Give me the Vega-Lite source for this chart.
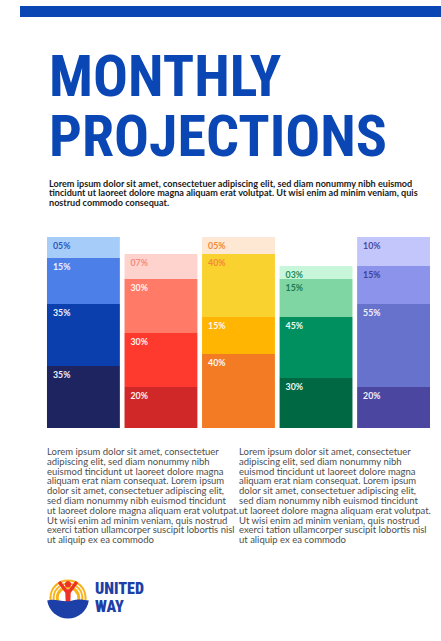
{
  "$schema": "https://vega.github.io/schema/vega-lite/v6.json",
  "background": "#ffffff",
  "padding": {"left": 20, "top": 6, "right": 0, "bottom": 0},
  "spacing": 32,
  "config": {"view": {"stroke": null}},
  "vconcat": [
    {
      "width": 421,
      "height": 11,
      "view": {"fill": "#0a47b5", "stroke": null},
      "data": {"values": [{"band": "top"}]},
      "mark": {"type": "rect", "color": "#0a47b5"}
    },
    {
      "spacing": 10,
      "vconcat": [
        {
          "width": 410,
          "height": 191,
          "title": {
            "text": ["MONTHLY", "PROJECTIONS"],
            "subtitle": [
              "Lorem ipsum dolor sit amet, consectetuer adipiscing elit, sed diam nonummy nibh euismod",
              "tincidunt ut laoreet dolore magna aliquam erat volutpat. Ut wisi enim ad minim veniam, quis",
              "nostrud commodo consequat."
            ],
            "anchor": "start",
            "dx": 29,
            "font": "Roboto Condensed, DejaVu Sans Condensed, sans-serif",
            "fontSize": 58,
            "fontWeight": "bold",
            "lineHeight": 60,
            "color": "#0a47b5",
            "subtitleFont": "Lato",
            "subtitleFontSize": 9.1,
            "subtitleFontWeight": "bold",
            "subtitleColor": "#1a1a1a",
            "subtitleLineHeight": 9.5,
            "subtitlePadding": 12,
            "offset": 29
          },
          "data": {
            "values": [
              {"col": "M1", "seg": 1, "id": "M1-1", "value": 21, "label": "05%"},
              {"col": "M1", "seg": 2, "id": "M1-2", "value": 46, "label": "15%"},
              {"col": "M1", "seg": 3, "id": "M1-3", "value": 62, "label": "35%"},
              {"col": "M1", "seg": 4, "id": "M1-4", "value": 62, "label": "35%"},
              {"col": "M2", "seg": 1, "id": "M2-1", "value": 25, "label": "07%"},
              {"col": "M2", "seg": 2, "id": "M2-2", "value": 54, "label": "30%"},
              {"col": "M2", "seg": 3, "id": "M2-3", "value": 54, "label": "30%"},
              {"col": "M2", "seg": 4, "id": "M2-4", "value": 41, "label": "20%"},
              {"col": "M3", "seg": 1, "id": "M3-1", "value": 17, "label": "05%"},
              {"col": "M3", "seg": 2, "id": "M3-2", "value": 63, "label": "40%"},
              {"col": "M3", "seg": 3, "id": "M3-3", "value": 37, "label": "15%"},
              {"col": "M3", "seg": 4, "id": "M3-4", "value": 74, "label": "40%"},
              {"col": "M4", "seg": 1, "id": "M4-1", "value": 13, "label": "03%"},
              {"col": "M4", "seg": 2, "id": "M4-2", "value": 38, "label": "15%"},
              {"col": "M4", "seg": 3, "id": "M4-3", "value": 61, "label": "45%"},
              {"col": "M4", "seg": 4, "id": "M4-4", "value": 50, "label": "30%"},
              {"col": "M5", "seg": 1, "id": "M5-1", "value": 29, "label": "10%"},
              {"col": "M5", "seg": 2, "id": "M5-2", "value": 38, "label": "15%"},
              {"col": "M5", "seg": 3, "id": "M5-3", "value": 83, "label": "55%"},
              {"col": "M5", "seg": 4, "id": "M5-4", "value": 41, "label": "20%"}
            ]
          },
          "transform": [
            {"stack": "value", "groupby": ["col"], "sort": [{"field": "seg", "order": "descending"}], "as": ["v0", "v1"]}
          ],
          "layer": [
            {
              "mark": {"type": "bar"},
              "encoding": {
                "x": {"field": "col", "type": "nominal", "axis": null, "scale": {"paddingInner": 0.06, "paddingOuter": 0.174, "align": 1}},
                "y": {"field": "v0", "type": "quantitative", "stack": null, "axis": null, "scale": {"domain": [0, 191], "nice": false}},
                "y2": {"field": "v1"},
                "color": {
                  "field": "id", "type": "nominal", "legend": null,
                  "scale": {
                    "domain": ["M1-1","M1-2","M1-3","M1-4","M2-1","M2-2","M2-3","M2-4","M3-1","M3-2","M3-3","M3-4","M4-1","M4-2","M4-3","M4-4","M5-1","M5-2","M5-3","M5-4"],
                    "range": ["#a6cdfa","#4d7fe9","#0b3fae","#1e2460","#ffd3cd","#ff7a67","#fe3a2e","#d02828","#fee7d3","#fad22f","#ffb502","#f27b23","#c8f6da","#80d6a3","#009060","#006843","#c3c6fb","#8c93eb","#6772cd","#4b47a1"]
                  }
                }
              }
            },
            {
              "mark": {"type": "text", "align": "left", "baseline": "middle", "dx": 6, "dy": 9, "font": "Lato", "fontSize": 8.8, "fontWeight": "bold"},
              "encoding": {
                "x": {"field": "col", "type": "nominal", "axis": null, "bandPosition": 0},
                "y": {"field": "v1", "type": "quantitative", "stack": null, "axis": null},
                "text": {"field": "label"},
                "color": {
                  "field": "id", "type": "nominal", "legend": null,
                  "scale": {
                    "domain": ["M1-1","M1-2","M1-3","M1-4","M2-1","M2-2","M2-3","M2-4","M3-1","M3-2","M3-3","M3-4","M4-1","M4-2","M4-3","M4-4","M5-1","M5-2","M5-3","M5-4"],
                    "range": ["#2e57c0","#eef2fd","#eef2fd","#eef2fd","#f58a7c","#fff4f2","#fff4f2","#fff4f2","#f2883a","#f2883a","#fff8ee","#fff8ee","#1d8a55","#1d7a4b","#eefaf3","#eefaf3","#4b4aa0","#3e3f95","#f1f1fc","#f1f1fc"]
                  }
                }
              }
            }
          ],
          "resolve": {"scale": {"color": "independent"}}
        },
        {
          "width": 410,
          "height": 28,
          "data": {
            "values": [
              {"col": "left", "text": "Lorem ipsum dolor sit amet, consectetuer\nadipiscing elit, sed diam nonummy nibh\neuismod tincidunt ut laoreet dolore magna\naliquam erat niam consequat. Lorem ipsum\ndolor sit amet, consectetuer adipiscing elit,\nsed diam nonummy nibh euismod tincidunt\nut laoreet dolore magna aliquam erat volutpat.\nUt wisi enim ad minim veniam, quis nostrud\nexerci tation ullamcorper suscipit lobortis nisl\nut aliquip ex ea commodo"},
              {"col": "right", "text": "Lorem ipsum dolor sit amet, consectetuer\nadipiscing elit, sed diam nonummy nibh\neuismod tincidunt ut laoreet dolore magna\naliquam erat niam consequat. Lorem ipsum\ndolor sit amet, consectetuer adipiscing elit,\nsed diam nonummy nibh euismod tincidunt\nut laoreet dolore magna aliquam erat volutpat.\nUt wisi enim ad minim veniam, quis nostrud\nexerci tation ullamcorper suscipit lobortis nisl\nut aliquip ex ea commodo"}
            ]
          },
          "mark": {"type": "text", "align": "left", "baseline": "middle", "lineBreak": "\n", "lineHeight": 9.8, "font": "Lato", "fontSize": 9.5, "color": "#4d4d4d"},
          "encoding": {
            "x": {"field": "col", "type": "nominal", "axis": null, "scale": {"type": "point", "padding": 0.5677, "align": 0.1239}},
            "text": {"field": "text"}
          }
        },
        {
          "width": 96,
          "height": 86,
          "data": {"values": [{"brand": "United Way"}]},
          "layer": [
            {"mark": {"type": "point", "shape": "circle", "filled": true, "size": 1385, "color": "#f8b21a", "opacity": 1}},
            {"mark": {"type": "point", "shape": "circle", "filled": false, "size": 1018, "color": "#ffffff", "strokeWidth": 1.2, "opacity": 1}},
            {"mark": {"type": "point", "shape": "circle", "filled": false, "size": 660, "color": "#ffffff", "strokeWidth": 1.2, "opacity": 1}},
            {"mark": {"type": "point", "shape": "circle", "filled": true, "size": 346, "color": "#ffffff", "opacity": 1}},
            {"mark": {"type": "point", "shape": "M -0.15 -0.66 A 0.15 0.15 0 1 1 0.15 -0.66 A 0.15 0.15 0 1 1 -0.15 -0.66 Z M -0.48 -0.72 L -0.36 -0.82 L -0.06 -0.42 L 0.06 -0.42 L 0.36 -0.82 L 0.48 -0.72 L 0.13 -0.25 L 0.11 0.2 L -0.11 0.2 L -0.13 -0.25 Z", "filled": true, "size": 1764, "color": "#ee3124", "opacity": 1}},
            {"mark": {"type": "point", "shape": "M -0.99 0.12 C -0.6 0.0 -0.2 0.25 0.2 0.12 C 0.5 0.02 0.8 0.1 0.99 0.12 A 1 1 0 0 1 -0.99 0.12 Z", "filled": true, "size": 1764, "color": "#1d3fa8", "opacity": 1}},
            {"mark": {"type": "text", "text": ["UNITED", "WAY"], "align": "left", "baseline": "middle", "dx": 27, "dy": -9, "lineHeight": 18, "font": "Roboto Condensed, DejaVu Sans Condensed, sans-serif", "fontSize": 16, "fontWeight": 900, "color": "#1d3fa8"}}
          ]
        }
      ]
    }
  ]
}
